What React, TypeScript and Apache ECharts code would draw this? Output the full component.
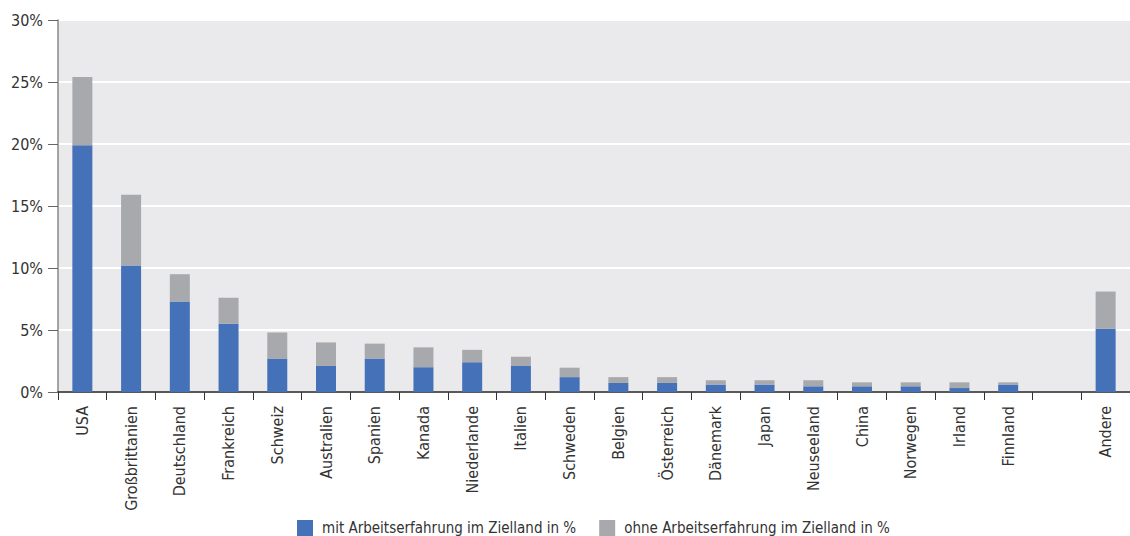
import React, { useEffect, useRef } from "react";
import * as echarts from "echarts";

const categories = [
  "USA", "Großbrittanien", "Deutschland", "Frankreich", "Schweiz", "Australien", "Spanien",
  "Kanada", "Niederlande", "Italien", "Schweden", "Belgien", "Österreich", "Dänemark", "Japan",
  "Neuseeland", "China", "Norwegen", "Irland", "Finnland", "", "Andere",
];
const mitArbeit = [
  19.9, 10.2, 7.3, 5.5, 2.7, 2.1, 2.7, 2.0, 2.4, 2.1, 1.2, 0.73, 0.73, 0.6, 0.6,
  0.46, 0.46, 0.46, 0.32, 0.6, null, 5.1,
];
const ohneArbeit = [
  5.5, 5.7, 2.2, 2.1, 2.1, 1.9, 1.2, 1.6, 1.0, 0.75, 0.76, 0.47, 0.47, 0.35, 0.35,
  0.49, 0.32, 0.32, 0.46, 0.18, null, 3.0,
];
const yTicks = [0, 5, 10, 15, 20, 25, 30];
const seriesNames = [
  "mit Arbeitserfahrung im Zielland in %",
  "ohne Arbeitserfahrung im Zielland in %",
];

const FONT = "'Liberation Sans Narrow', 'DejaVu Sans Condensed', 'Roboto', sans-serif";

export default function App() {
  const ref = useRef<HTMLDivElement>(null);
  useEffect(() => {
    if (!ref.current) return;
    const chart = echarts.init(ref.current, undefined, { renderer: "svg" });
    chart.setOption({
      animation: false,
      textStyle: { fontFamily: FONT },
      grid: {
        left: 58,
        right: 0,
        top: 20,
        bottom: 144,
        show: true,
        backgroundColor: "#eaeaed",
        borderWidth: 0,
      },
      legend: {
        bottom: 0,
        left: 297,
        padding: 0,
        itemWidth: 16,
        itemHeight: 16,
        itemGap: 23,
        icon: "rect",
        textStyle: { fontFamily: FONT, fontSize: 15, color: "#333", padding: [0, 0, 0, 4] },
        data: seriesNames,
      },
      xAxis: {
        type: "category",
        data: categories,
        axisLine: { lineStyle: { color: "#222", width: 1.5 } },
        axisTick: { show: true, length: 8, lineStyle: { color: "#333" }, interval: 0 },
        axisLabel: {
          rotate: 90,
          interval: 0,
          margin: 14,
          fontFamily: FONT,
          fontSize: 16,
          color: "#333",
        },
      },
      yAxis: {
        type: "value",
        min: yTicks[0],
        max: yTicks[yTicks.length - 1],
        interval: 5,
        axisLine: { show: true, lineStyle: { color: "#888", width: 1.5 } },
        axisTick: { show: true, length: 10, lineStyle: { color: "#666" } },
        axisLabel: {
          formatter: (v: number) => `${v}%`,
          margin: 15,
          fontFamily: FONT,
          fontSize: 16,
          color: "#333",
        },
        splitLine: { show: true, lineStyle: { color: "#ffffff", width: 2 } },
      },
      series: [
        {
          name: seriesNames[0],
          type: "bar",
          stack: "total",
          barWidth: 20,
          data: mitArbeit,
          itemStyle: { color: "#4571b9" },
        },
        {
          name: seriesNames[1],
          type: "bar",
          stack: "total",
          barWidth: 20,
          data: ohneArbeit,
          itemStyle: { color: "#a8a9ac" },
        },
      ],
    });
    return () => chart.dispose();
  }, []);
  return (
    <div
      ref={ref}
      style={{ position: "fixed", left: 0, top: 0, width: 1130, height: 536, background: "#fff" }}
    />
  );
}
